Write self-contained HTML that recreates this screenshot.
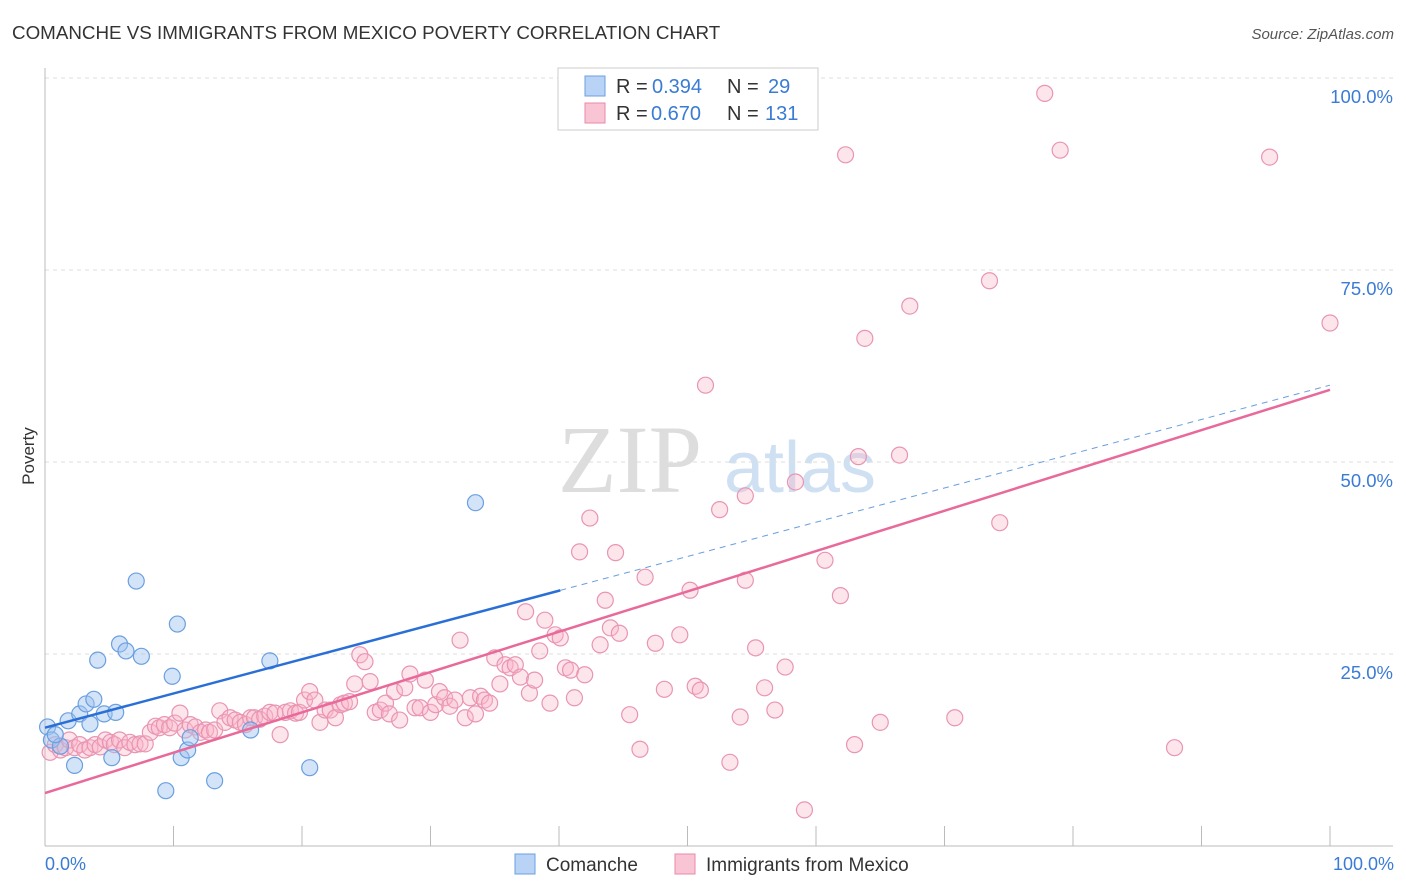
<!DOCTYPE html>
<html><head><meta charset="utf-8"><style>
body{margin:0;background:#fff;font-family:"Liberation Sans",sans-serif;}
svg{display:block}
</style></head><body>
<svg id="c" width="1406" height="892">
<text x="12" y="39" font-size="18.8" fill="#333">COMANCHE VS IMMIGRANTS FROM MEXICO POVERTY CORRELATION CHART</text>
<text x="1394" y="39" font-size="15" fill="#555" text-anchor="end" font-style="italic">Source: ZipAtlas.com</text>
<text x="34" y="456" font-size="17" fill="#333" transform="rotate(-90 34 456)" text-anchor="middle">Poverty</text>
<text x="630" y="492" font-size="96" fill="#ddd" font-family="Liberation Serif,serif" text-anchor="middle">ZIP</text>
<text x="800" y="492" font-size="72" fill="#cfe0f3" text-anchor="middle">atlas</text>
<g id="grid"></g><g id="pts"></g><g id="lines"></g>
<g>
<rect x="558" y="68" width="260" height="62" fill="#fff" stroke="#ccc"/>
<rect x="585" y="76" width="20" height="20" fill="#b8d3f5" stroke="#6a9fe0"/>
<rect x="585" y="103" width="20" height="20" fill="#f9c4d4" stroke="#e88aab"/>
<text y="93" font-size="20" fill="#333"><tspan x="616">R =</tspan><tspan x="652" fill="#3a7bd5">0.394</tspan><tspan x="727">N =</tspan><tspan x="768" fill="#3a7bd5">29</tspan></text>
<text y="120" font-size="20" fill="#333"><tspan x="616">R =</tspan><tspan x="651" fill="#3a7bd5">0.670</tspan><tspan x="727">N =</tspan><tspan x="765" fill="#3a7bd5">131</tspan></text>
</g>
<g>
<rect x="515" y="854" width="20" height="20" fill="#b8d3f5" stroke="#6a9fe0"/>
<text x="546" y="871" font-size="19" fill="#333">Comanche</text>
<rect x="675" y="854" width="20" height="20" fill="#f9c4d4" stroke="#e88aab"/>
<text x="706" y="871" font-size="19" fill="#333">Immigrants from Mexico</text>
</g>
<text x="45" y="870" font-size="18" fill="#3a7bd5">0.0%</text>
<text x="1394" y="870" font-size="18" fill="#3a7bd5" text-anchor="end">100.0%</text>
</svg>
<script>
const yTicks=[25,50,75,100];
const yTickLabels=["25.0%","50.0%","75.0%","100.0%"];
const xTicks=[0,10,20,30,40,50,60,70,80,90,100];
const blueTrend=[15.4,60.0];
const blueSolidEnd=40.1;
const pinkTrend=[6.9,59.4];
const bluePx=[[48,727],[52,740],[60,746],[68,721],[75,765],[80,714],[86,704],[90,724],[94,699],[98,660],[104,714],[112,758],[116,712],[120,644],[126,651],[136,581],[142,656],[166,791],[172,676],[177,624],[181,758],[187,750],[190,738],[215,781],[250,730],[270,661],[310,768],[475,503],[55,735]];
const pinkPx=[[50,752],[55,745],[60,750],[65,748],[70,740],[75,748],[80,745],[85,750],[90,748],[95,745],[100,747],[105,740],[110,742],[115,745],[120,740],[125,748],[130,742],[135,745],[140,744],[145,744],[150,732],[155,726],[160,728],[165,725],[170,728],[175,723],[180,713],[185,730],[190,725],[195,727],[200,732],[205,730],[210,732],[215,730],[220,711],[225,722],[230,718],[235,720],[240,722],[245,725],[250,718],[255,718],[260,719],[265,716],[270,712],[275,713],[280,735],[285,712],[290,711],[295,713],[300,712],[305,700],[310,692],[315,700],[320,722],[325,710],[330,710],[335,718],[340,705],[345,703],[350,702],[355,684],[360,655],[365,662],[370,682],[375,712],[380,710],[385,703],[390,714],[395,692],[400,720],[405,688],[410,674],[415,708],[420,708],[425,680],[430,712],[435,705],[440,692],[445,698],[450,706],[455,700],[460,640],[465,718],[470,698],[475,714],[480,696],[485,700],[490,703],[495,658],[500,684],[505,665],[510,668],[515,665],[520,677],[525,612],[530,693],[535,680],[540,651],[545,620],[550,703],[555,635],[560,638],[565,668],[570,670],[575,698],[580,552],[585,675],[590,518],[600,645],[605,600],[610,628],[615,553],[620,633],[630,715],[640,749],[645,577],[655,643],[665,689],[680,635],[690,590],[695,686],[700,690],[705,385],[720,510],[730,762],[740,717],[745,496],[745,580],[755,648],[765,688],[775,710],[785,667],[795,482],[805,810],[825,560],[840,596],[845,155],[855,745],[858,457],[865,338],[880,722],[900,455],[910,306],[955,718],[990,281],[1000,523],[1045,93],[1060,150],[1175,748],[1270,157],[1330,323]];
const blueX=bluePx.map(p=>+((p[0]-45)/12.85).toFixed(1));
const blueY=bluePx.map(p=>+((846-p[1])/7.68).toFixed(1));
const pinkX=pinkPx.map(p=>+((p[0]-45)/12.85).toFixed(1));
const pinkY=pinkPx.map(p=>+((846-p[1])/7.68).toFixed(1));
const X=v=>45+v*12.85, Y=v=>846-v*7.68;
const NS="http://www.w3.org/2000/svg";
function mk(tag,attrs,parent){const e=document.createElementNS(NS,tag);for(const k in attrs)e.setAttribute(k,attrs[k]);parent.appendChild(e);return e;}
const grid=document.getElementById('grid');
yTicks.forEach((t,i)=>{
 const l=mk('line',{x1:45,x2:1393,y1:Y(t),y2:Y(t),stroke:'#ddd','stroke-dasharray':'4,4'},grid);
 
 
 const tx=mk('text',{x:1393,y:Y(t)+25,'font-size':18.5,fill:'#3a7bd5','text-anchor':'end'},grid);
 tx.textContent=yTickLabels[i];
 
 
});
const ax=mk('line',{x1:45,x2:45,y1:68,y2:846,stroke:'#bbb'},grid);


const bx=mk('line',{x1:45,x2:1393,y1:846,y2:846,stroke:'#bbb'},grid);


xTicks.forEach(t=>{
 const l=mk('line',{x1:X(t),x2:X(t),y1:826,y2:846,stroke:'#bbb'},grid);
 
 
});
const pts=document.getElementById('pts');
pinkX.forEach((x,i)=>{
 const c=mk('circle',{cx:X(x),cy:Y(pinkY[i]),r:8,fill:'rgba(248,180,200,0.35)',stroke:'#e995b2','stroke-width':1.2},pts);
 
 
});
blueX.forEach((x,i)=>{
 const c=mk('circle',{cx:X(x),cy:Y(blueY[i]),r:8,fill:'rgba(160,196,240,0.45)',stroke:'#6a9fe0','stroke-width':1.2},pts);
 
 
});
const lines=document.getElementById('lines');
const by=v=>blueTrend[0]+(blueTrend[1]-blueTrend[0])*v/100;
const b1=mk('line',{x1:X(0),y1:Y(by(0)),x2:X(blueSolidEnd),y2:Y(by(blueSolidEnd)),stroke:'#2a6fd6','stroke-width':2.5},lines);


const b2=mk('line',{x1:X(blueSolidEnd),y1:Y(by(blueSolidEnd)),x2:X(100),y2:Y(by(100)),stroke:'#6a9fe0','stroke-width':1,'stroke-dasharray':'6,5'},lines);


const p1=mk('line',{x1:X(0),y1:Y(pinkTrend[0]),x2:X(100),y2:Y(pinkTrend[1]),stroke:'#e8699a','stroke-width':2.5},lines);


</script>
</body></html>
